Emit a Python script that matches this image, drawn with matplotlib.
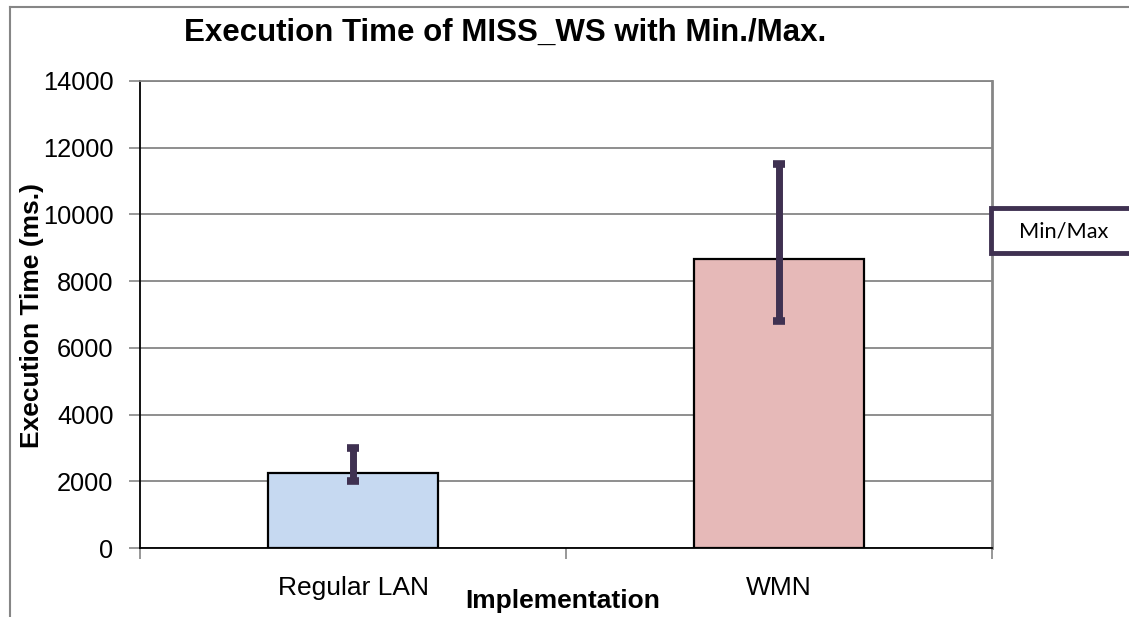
import matplotlib.pyplot as plt
from matplotlib.patches import Rectangle
from matplotlib.lines import Line2D

# Mean execution time per implementation, with min/max range
categories = ["Regular LAN", "WMN"]
mean_ms = [2250, 8650]
min_ms = [2000, 6800]
max_ms = [3000, 11500]
bar_colors = ["#C6D9F1", "#E6B9B8"]
y_ticks = [0, 2000, 4000, 6000, 8000, 10000, 12000, 14000]

err_color = "#3F3151"
grid_color = "#868686"

W, H = 1129, 617
fig = plt.figure(figsize=(W / 100, H / 100), dpi=100)
ax = fig.add_axes([140 / W, 1 - 548 / H, (992 - 140) / W, (548 - 81) / H])

x = list(range(len(categories)))
lower = [m - lo for m, lo in zip(mean_ms, min_ms)]
upper = [hi - m for m, hi in zip(mean_ms, max_ms)]

ax.bar(x, mean_ms, width=0.4, color=bar_colors, edgecolor="black", linewidth=1.6, zorder=3)
ax.errorbar(x, mean_ms, yerr=[lower, upper], fmt="none", ecolor=err_color,
            elinewidth=5, capsize=4.3, capthick=5.5, zorder=4)

ax.set_xlim(-0.5, 1.5)
ax.set_ylim(0, 14000)
ax.set_yticks(y_ticks)
ax.set_yticklabels([str(v) for v in y_ticks], fontsize=18.3, family="Liberation Sans")
ax.yaxis.grid(True, color=grid_color, linewidth=1.3, zorder=0)

# category labels sit between the boundary ticks
ax.set_xticks(x)
ax.set_xticklabels(categories, fontsize=19, family="Liberation Sans")
ax.set_xticks([-0.5, 0.5, 1.5], minor=True)
ax.tick_params(axis="x", which="major", length=0, pad=20)
ax.tick_params(axis="x", which="minor", length=8, color=grid_color, width=1.2)
ax.tick_params(axis="y", length=8, color=grid_color, width=1.2, pad=11)

for side in ["left", "bottom"]:
    ax.spines[side].set_color("black")
    ax.spines[side].set_linewidth(1.3)
ax.spines["top"].set_color(grid_color)
ax.spines["top"].set_linewidth(1.3)
ax.spines["right"].set_color(grid_color)
ax.spines["right"].set_linewidth(2)
ax.set_axisbelow(True)

fig.text(505 / W, 1 - 33 / H, "Execution Time of MISS_WS with Min./Max.", ha="center",
         va="center", fontsize=22.5, fontweight="bold", family="Liberation Sans")
fig.text(32 / W, 1 - 315 / H, "Execution Time (ms.)", rotation=90, ha="center",
         va="center", fontsize=19, fontweight="bold", family="Liberation Sans")
fig.text(563 / W, 1 - 601 / H, "Implementation", ha="center", va="center",
         fontsize=19, fontweight="bold", family="Liberation Sans")

# outer chart frame
fig.add_artist(Line2D([10 / W, 1], [1 - 7 / H, 1 - 7 / H], color=grid_color, linewidth=1.5))
fig.add_artist(Line2D([10 / W, 10 / W], [0, 1 - 7 / H], color=grid_color, linewidth=1.5))

# legend box
fig.add_artist(Rectangle((991 / W, 1 - 253 / H), 150 / W, 45 / H, facecolor="white",
                         edgecolor=err_color, linewidth=3.5, clip_on=False))
fig.text(1064 / W, 1 - 231 / H, "Min/Max", ha="center", va="center", fontsize=15.7,
         family="Lato")

fig.savefig("out.png", dpi=100)
